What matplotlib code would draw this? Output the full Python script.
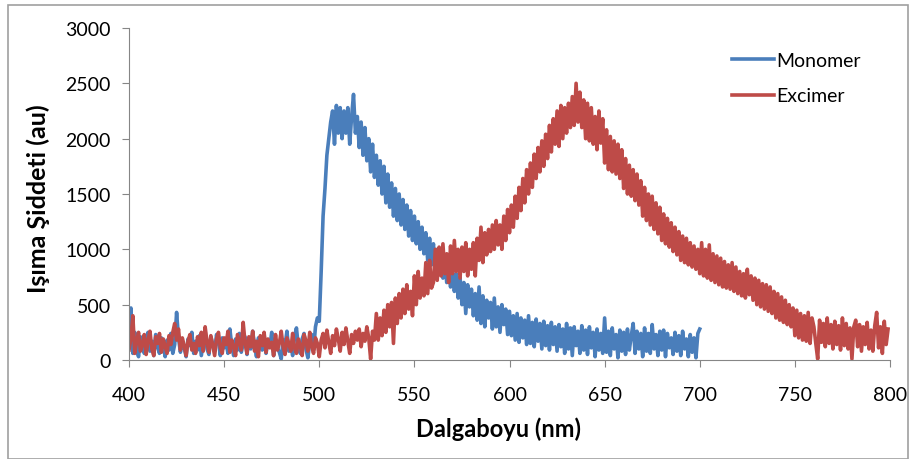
import numpy as np
import matplotlib.pyplot as plt
from matplotlib.patches import Rectangle

# wavelength grid (nm), 1 nm step
wl_monomer = np.arange(400, 701)
wl_excimer = np.arange(400, 800)

monomer = [
    120, 470, 60, 250, 90, 30, 210, 140, 60, 190,          # 400
    250, 80, 170, 40, 230, 120, 60, 200, 150, 30,          # 410
    180, 90, 240, 60, 140, 430, 200, 70, 160, 110,         # 420
    30, 190, 130, 250, 60, 170, 90, 220, 40, 150,          # 430
    260, 100, 50, 210, 140, 80, 230, 170, 40, 200,         # 440
    110, 160, 60, 280, 130, 40, 190, 90, 240, 70,          # 450
    150, 210, 50, 180, 100, 260, 130, 30, 200, 160,        # 460
    90, 230, 60, 170, 120, 250, 40, 190, 110, 70,          # 470
    10, 180, 130, 260, 80, 150, 40, 210, 290, 120,         # 480
    60, 190, 240, 100, 20, 170, 230, 90, 300, 380,         # 490
    350, 800, 1300, 1550, 1850, 2000, 2150, 2250, 1950, 2300,   # 500
    2050, 2280, 2000, 2250, 2050, 2280, 1950, 2200, 2400, 2050, # 510
    2200, 1920, 2150, 1850, 2100, 1800, 2000, 1700, 1950, 1650, # 520
    1850, 1580, 1800, 1500, 1750, 1420, 1680, 1380, 1600, 1300, # 530
    1550, 1260, 1500, 1220, 1450, 1180, 1400, 1120, 1350, 1080, # 540
    1300, 1050, 1250, 1000, 1200, 960, 1150, 900, 1100, 860,    # 550
    1050, 820, 1000, 780, 950, 740, 900, 700, 870, 660,    # 560
    820, 620, 780, 560, 750, 500, 700, 420, 680, 480,      # 570
    640, 400, 600, 360, 660, 330, 580, 300, 540, 380,      # 580
    520, 280, 560, 300, 480, 250, 500, 320, 460, 230,      # 590
    440, 220, 400, 180, 420, 160, 380, 200, 360, 140,      # 600
    400, 150, 340, 120, 370, 170, 330, 100, 350, 130,      # 610
    310, 90, 340, 140, 300, 80, 320, 120, 280, 60,         # 620
    330, 100, 290, 40, 300, 130, 260, 60, 310, 90,         # 630
    270, 50, 300, 110, 250, 30, 280, 90, 240, 60,          # 640
    380, 70, 260, 40, 290, 100, 230, 20, 270, 80,          # 650
    250, 50, 280, 90, 220, 330, 60, 260, 100, 240,         # 660
    30, 290, 80, 240, 60, 320, 100, 230, 40, 260,          # 670
    90, 270, 30, 240, 110, 200, 50, 250, 80, 220,          # 680
    40, 260, 100, 190, 30, 230, 70, 200, 20, 240,          # 690
    280,                                                   # 700
]

excimer = [
    90, 200, 400, 60, 170, 250, 80, 140, 230, 50,          # 400
    180, 260, 100, 40, 210, 150, 240, 70, 190, 120,        # 410
    60, 220, 140, 250, 330, 180, 280, 90, 200, 130,        # 420
    40, 170, 230, 90, 150, 60, 210, 130, 250, 80,          # 430
    300, 160, 70, 220, 130, 40, 190, 250, 110, 60,         # 440
    200, 140, 260, 70, 180, 120, 40, 230, 160, 90,         # 450
    340, 150, 60, 210, 120, 260, 80, 170, 30, 220,         # 460
    130, 250, 70, 190, 110, 160, 40, 230, 90, 150,         # 470
    260, 120, 50, 200, 150, 80, 240, 110, 60, 190,         # 480
    130, 40, 230, 170, 80, 250, 120, 60, 200, 150,         # 490
    30, 180, 240, 110, 270, 160, 60, 220, 130, 280,        # 500
    190, 80, 250, 140, 290, 170, 60, 230, 150, 260,        # 510
    180, 280, 120, 240, 170, 300, 200, 10, 260, 180,       # 520
    420, 180, 380, 220, 450, 250, 500, 300, 520, 150,      # 530
    560, 330, 600, 380, 640, 420, 680, 460, 620, 400,      # 540
    760, 500, 800, 560, 740, 580, 880, 600, 900, 650,      # 550
    700, 1000, 720, 1020, 760, 1050, 780, 960, 700, 1030,  # 560
    780, 1080, 800, 1000, 740, 1020, 800, 1060, 760, 1000, # 570
    820, 1060, 760, 1100, 900, 1200, 880, 1150, 950, 1180, # 580
    980, 1220, 1000, 1260, 1040, 1220, 1000, 1300, 1080, 1360,   # 590
    1150, 1400, 1200, 1480, 1280, 1560, 1350, 1640, 1420, 1720,  # 600
    1500, 1780, 1560, 1860, 1640, 1920, 1700, 1980, 1750, 2040,  # 610
    1820, 2120, 1880, 2180, 1950, 2250, 1930, 2300, 2000, 2280,  # 620
    2050, 2320, 2100, 2380, 2120, 2500, 2150, 2420, 2100, 2350,  # 630
    2000, 2320, 1980, 2280, 1950, 2200, 1900, 2250, 1960, 2180,  # 640
    1780, 2080, 1720, 2020, 1700, 1980, 1680, 1950, 1640, 1900,  # 650
    1550, 1820, 1500, 1760, 1480, 1720, 1440, 1680, 1400, 1620,  # 660
    1300, 1560, 1260, 1500, 1220, 1480, 1180, 1420, 1140, 1380,  # 670
    1080, 1320, 1050, 1280, 1020, 1240, 980, 1200, 950, 1160,    # 680
    900, 1120, 880, 1100, 860, 1060, 840, 1030, 820, 1000,       # 690
    780, 1060, 760, 1000, 740, 1040, 720, 960, 700, 940,   # 700
    680, 920, 660, 890, 650, 860, 640, 880, 620, 840,      # 710
    600, 800, 580, 780, 560, 820, 590, 760, 540, 740,      # 720
    500, 720, 480, 690, 460, 680, 440, 660, 420, 620,      # 730
    380, 600, 360, 570, 340, 540, 320, 500, 300, 470,      # 740
    220, 450, 200, 420, 180, 400, 170, 430, 150, 380,      # 750
    300, 150, 10, 360, 160, 330, 120, 380, 150, 320,       # 760
    100, 350, 140, 310, 90, 380, 130, 330, 100, 290,       # 770
    10, 300, 360, 120, 320, 80, 300, 140, 340, 100,        # 780
    270, 80, 310, 430, 110, 300, 60, 350, 140, 280,        # 790
]

plt.rcParams['font.family'] = ['Lato', 'DejaVu Sans']

fig = plt.figure(figsize=(9.1, 4.6), dpi=100)
ax = fig.add_axes([0.1418, 0.2152, 0.8362, 0.7218])

ax.plot(wl_monomer, monomer, color='#4a7ebb', linewidth=2.6, label='Monomer')
ax.plot(wl_excimer, excimer, color='#be4b48', linewidth=2.6, label='Excimer')

ax.set_xlim(400, 800)
ax.set_ylim(0, 3000)
ax.set_xticks(range(400, 801, 50))
ax.set_yticks(range(0, 3001, 500))

for s in ['top', 'right']:
    ax.spines[s].set_visible(False)
for s in ['left', 'bottom']:
    ax.spines[s].set_color('#868686')
ax.tick_params(axis='both', colors='#868686', length=5, labelsize=14,
               labelcolor='black')
ax.tick_params(axis='y', pad=8)
ax.tick_params(axis='x', pad=14)

ax.set_xlabel('Dalgaboyu (nm)', fontsize=17, fontweight='bold')
ax.set_ylabel('Işıma Şiddeti (au)', fontsize=18, fontweight='bold')
ax.xaxis.set_label_coords(0.485, -0.169)
ax.yaxis.set_label_coords(-0.104, 0.49)

ax.legend(loc='upper left', bbox_to_anchor=(732 / 910, 1 - 53 / 460),
          bbox_transform=fig.transFigure, frameon=False, borderpad=0,
          borderaxespad=0, fontsize=14, handlelength=2.15,
          handletextpad=0.1, labelspacing=0.95)

# chart area border
fig.patches.append(Rectangle((8 / 910, 0), 900 / 910, 1 - 6 / 460,
                             transform=fig.transFigure, fill=False,
                             edgecolor='#a0a0a0', linewidth=1.2))

plt.savefig('out.png')
